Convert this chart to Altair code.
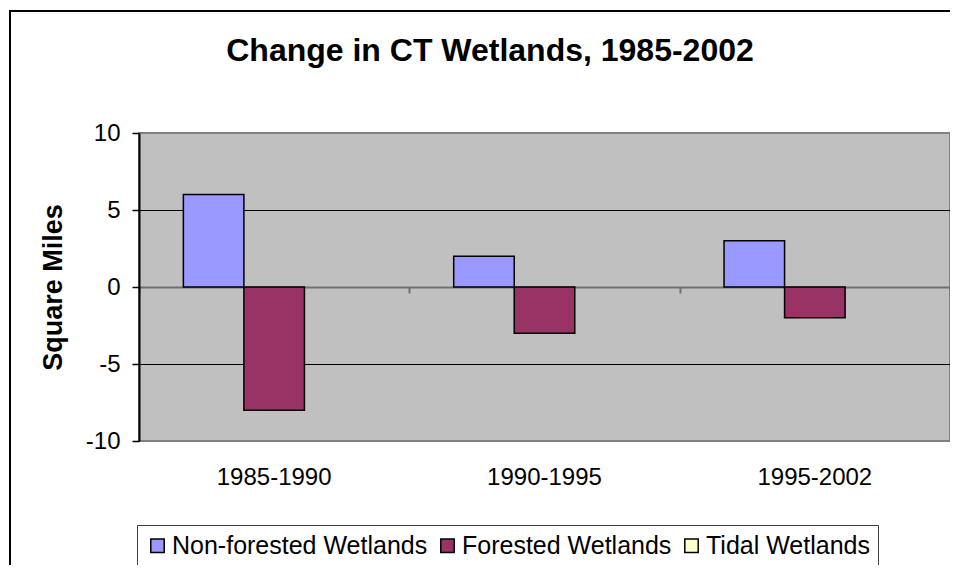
import altair as alt
import pandas as pd

periods = ["1985-1990", "1990-1995", "1995-2002"]
series = ["Non-forested Wetlands", "Forested Wetlands", "Tidal Wetlands"]
nonforested = [6, 2, 3]
forested = [-8, -3, -2]
tidal = [0, 0, 0]
colors = ["#9999FF", "#993366", "#FFFFCC"]
y_ticks = [-10, -5, 0, 5, 10]
title_text = "Change in CT Wetlands, 1985-2002"
y_title = "Square Miles"

rows = []
for s, vals in zip(series, [nonforested, forested, tidal]):
    for p, v in zip(periods, vals):
        rows.append({"period": p, "series": s, "value": v})
df = pd.DataFrame(rows)

FONT = "Arial, Liberation Sans"
W, H = 811, 308

xscale = alt.Scale(domain=periods, paddingInner=0, paddingOuter=0)

bars = alt.Chart(df).transform_filter("datum.value != 0").mark_bar(
    stroke="black", strokeWidth=1.5
).encode(
    x=alt.X("period:N", scale=xscale, sort=periods,
            axis=alt.Axis(title=None, orient="bottom", domain=False, ticks=False, grid=False,
                          labelAngle=0, labelFont=FONT, labelFontSize=24,
                          labelColor="black", labelPadding=24, labelBaseline="top")),
    xOffset=alt.XOffset("series:N", sort=series,
                        scale=alt.Scale(domain=series, paddingInner=0, paddingOuter=0.733)),
    y=alt.Y("value:Q", scale=alt.Scale(domain=[-10, 10], nice=False),
            axis=alt.Axis(values=y_ticks, labelExpr="'' + datum.value",
                          title=y_title, titleFont=FONT, titleFontSize=27,
                          titleFontWeight="bold", titleColor="black", titleAngle=-90,
                          titleX=-86, titleY=H / 2, titleAlign="center", titleBaseline="middle",
                          labelFont=FONT, labelFontSize=24, labelColor="black",
                          labelPadding=12, tickSize=7, tickColor="black", tickWidth=1.5,
                          domainColor="black", domainWidth=2,
                          grid=True,
                          gridColor=alt.condition("abs(datum.value) == 10",
                                                  alt.value("#808080"), alt.value("black")),
                          gridWidth=1)),
    color=alt.Color("series:N", sort=series,
                    scale=alt.Scale(domain=series, range=colors),
                    legend=alt.Legend(title=None, orient="none", legendX=-2, legendY=392,
                                      direction="horizontal", labelFont=FONT,
                                      labelFontSize=25, labelColor="black", labelLimit=0,
                                      symbolType="square", symbolSize=180,
                                      symbolStrokeColor="black", symbolStrokeWidth=1.5,
                                      labelOffset=2, columnPadding=7, padding=8,
                                      strokeColor="#404040")),
)

zero_axis = alt.Chart(df).mark_point(opacity=0).encode(
    x=alt.X("period:N", scale=xscale, sort=periods,
            axis=alt.Axis(title=None, orient="bottom", offset=-H / 2, labels=False,
                          domainColor="#707070", domainWidth=2, tickColor="#707070",
                          tickWidth=2, tickSize=6, tickBand="extent", grid=False)),
)

title_layer = alt.Chart(pd.DataFrame({"t": [title_text]})).mark_text(
    font=FONT, fontSize=32, fontWeight="bold", color="black",
    align="center", baseline="alphabetic"
).encode(text="t:N", x=alt.value(351), y=alt.value(-72))

frame_top = alt.Chart(pd.DataFrame({"a": [0]})).mark_rule(
    stroke="black", strokeWidth=2
).encode(x=alt.value(-129), x2=alt.value(1000), y=alt.value(-122))

frame_left = alt.Chart(pd.DataFrame({"a": [0]})).mark_rule(
    stroke="black", strokeWidth=2
).encode(x=alt.value(-129), y=alt.value(-123), y2=alt.value(600))

chart = alt.layer(zero_axis, bars, title_layer, frame_top, frame_left).resolve_axis(
    x="independent"
).properties(
    width=W, height=H,
    autosize=alt.AutoSizeParams(type="none"),
    padding={"left": 131, "top": 125, "right": 0, "bottom": 124},
    background="white",
).configure_view(
    fill="#C0C0C0", stroke="#808080", strokeWidth=2
)

chart.save("out.html", embed_options={"renderer": "svg", "actions": False})
